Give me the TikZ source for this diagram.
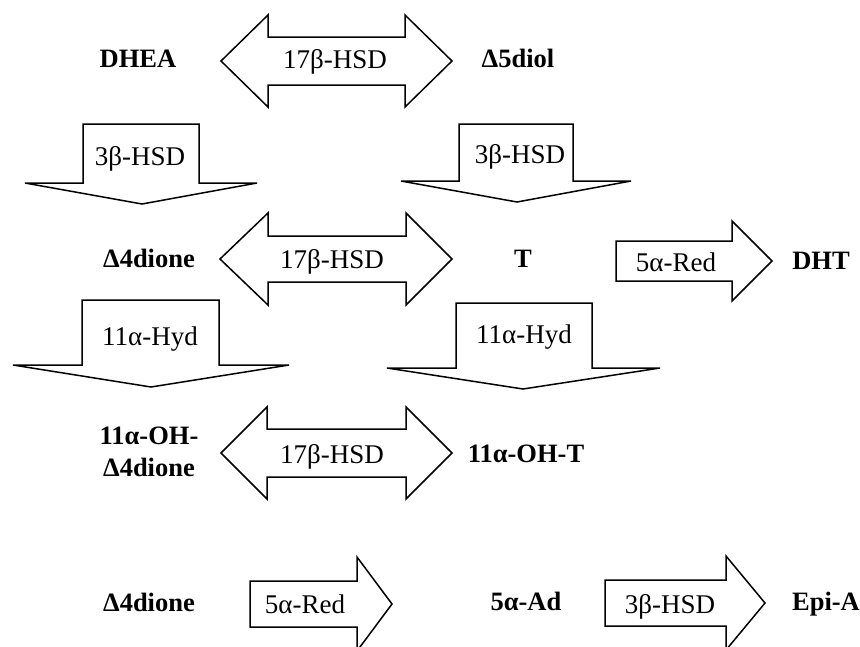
\documentclass[tikz,border=0pt]{standalone}
\usepackage{fontspec}
\setmainfont{Liberation Serif}
\newcommand\dblarr[7]{\draw[blk] (#1,#5) -- (#2,#5-#6) -- (#2,#5-#7) -- (#3,#5-#7) -- (#3,#5-#6) -- (#4,#5) -- (#3,#5+#6) -- (#3,#5+#7) -- (#2,#5+#7) -- (#2,#5+#6) -- cycle;}
\newcommand\dnarr[8]{\draw[blk] (#1,#3) -- (#2,#3) -- (#2,#4) -- (#6,#4) -- (#7,#8) -- (#5,#4) -- (#1,#4) -- cycle;}
\newcommand\rtarr[6]{\draw[blk] (#1,#4-#5) -- (#2,#4-#5) -- (#2,#4-#6) -- (#3,#4) -- (#2,#4+#6) -- (#2,#4+#5) -- (#1,#4+#5) -- cycle;}
\begin{document}
\begin{tikzpicture}[x=1pt,y=-1pt,
  blk/.style={draw=black,line width=1.5pt,line join=miter,fill=white},
  cpd/.style={font=\fontsize{26.5}{32}\selectfont\bfseries,inner sep=0pt,align=center,anchor=base},
  enz/.style={font=\fontsize{27}{32}\selectfont,inner sep=0pt,anchor=base}]
\useasboundingbox[fill=white] (0,0) rectangle (860,646);
% double arrows 17beta-HSD
\dblarr{221}{268}{405}{452}{61}{46}{24}
\dblarr{220}{268}{406}{452}{259}{46}{23}
\dblarr{221}{267}{406}{452}{453}{46}{24}
% down arrows
\dnarr{83}{199}{124}{183}{25}{257}{142}{204}
\dnarr{459}{573}{124}{181}{401}{631}{517}{202}
\dnarr{82}{219}{300}{365}{13}{289}{151}{387}
\dnarr{456}{592}{303}{368}{387}{660}{523}{389}
% right arrows
\rtarr{616}{732}{772}{261}{20}{40}
\rtarr{250}{357}{392}{604}{23}{47}
\rtarr{605}{726}{765}{603}{23}{47}
% enzyme labels
\node[enz] (e1) at (335,68) {17β-HSD};
\node[enz] (e2) at (332,268) {17β-HSD};
\node[enz] (e3) at (332,463) {17β-HSD};
\node[enz] (e4) at (140,165) {3β-HSD};
\node[enz] (e5) at (520,163) {3β-HSD};
\node[enz] (e6) at (150,345) {11α-Hyd};
\node[enz] (e7) at (524,343) {11α-Hyd};
\node[enz] (e8) at (676,271) {5α-Red};
\node[enz] (e9) at (305,613) {5α-Red};
\node[enz] (e10) at (670,613) {3β-HSD};
% compounds
\node[cpd] (dhea) at (138,67) {DHEA};
\node[cpd] (diol) at (518,67) {Δ5diol};
\node[cpd] (dione) at (149,267) {Δ4dione};
\node[cpd] (t) at (523,267) {T};
\node[cpd] (dht) at (821,269) {DHT};
\node[cpd,anchor=center] (ohdione) at (149,452) {11α-OH-\\Δ4dione};
\node[cpd] (oht) at (526,462) {11α-OH-T};
\node[cpd] (dione2) at (149,611) {Δ4dione};
\node[cpd] (ad) at (526,610) {5α-Ad};
\node[cpd] (epia) at (826,610) {Epi-A};
\end{tikzpicture}
\end{document}
